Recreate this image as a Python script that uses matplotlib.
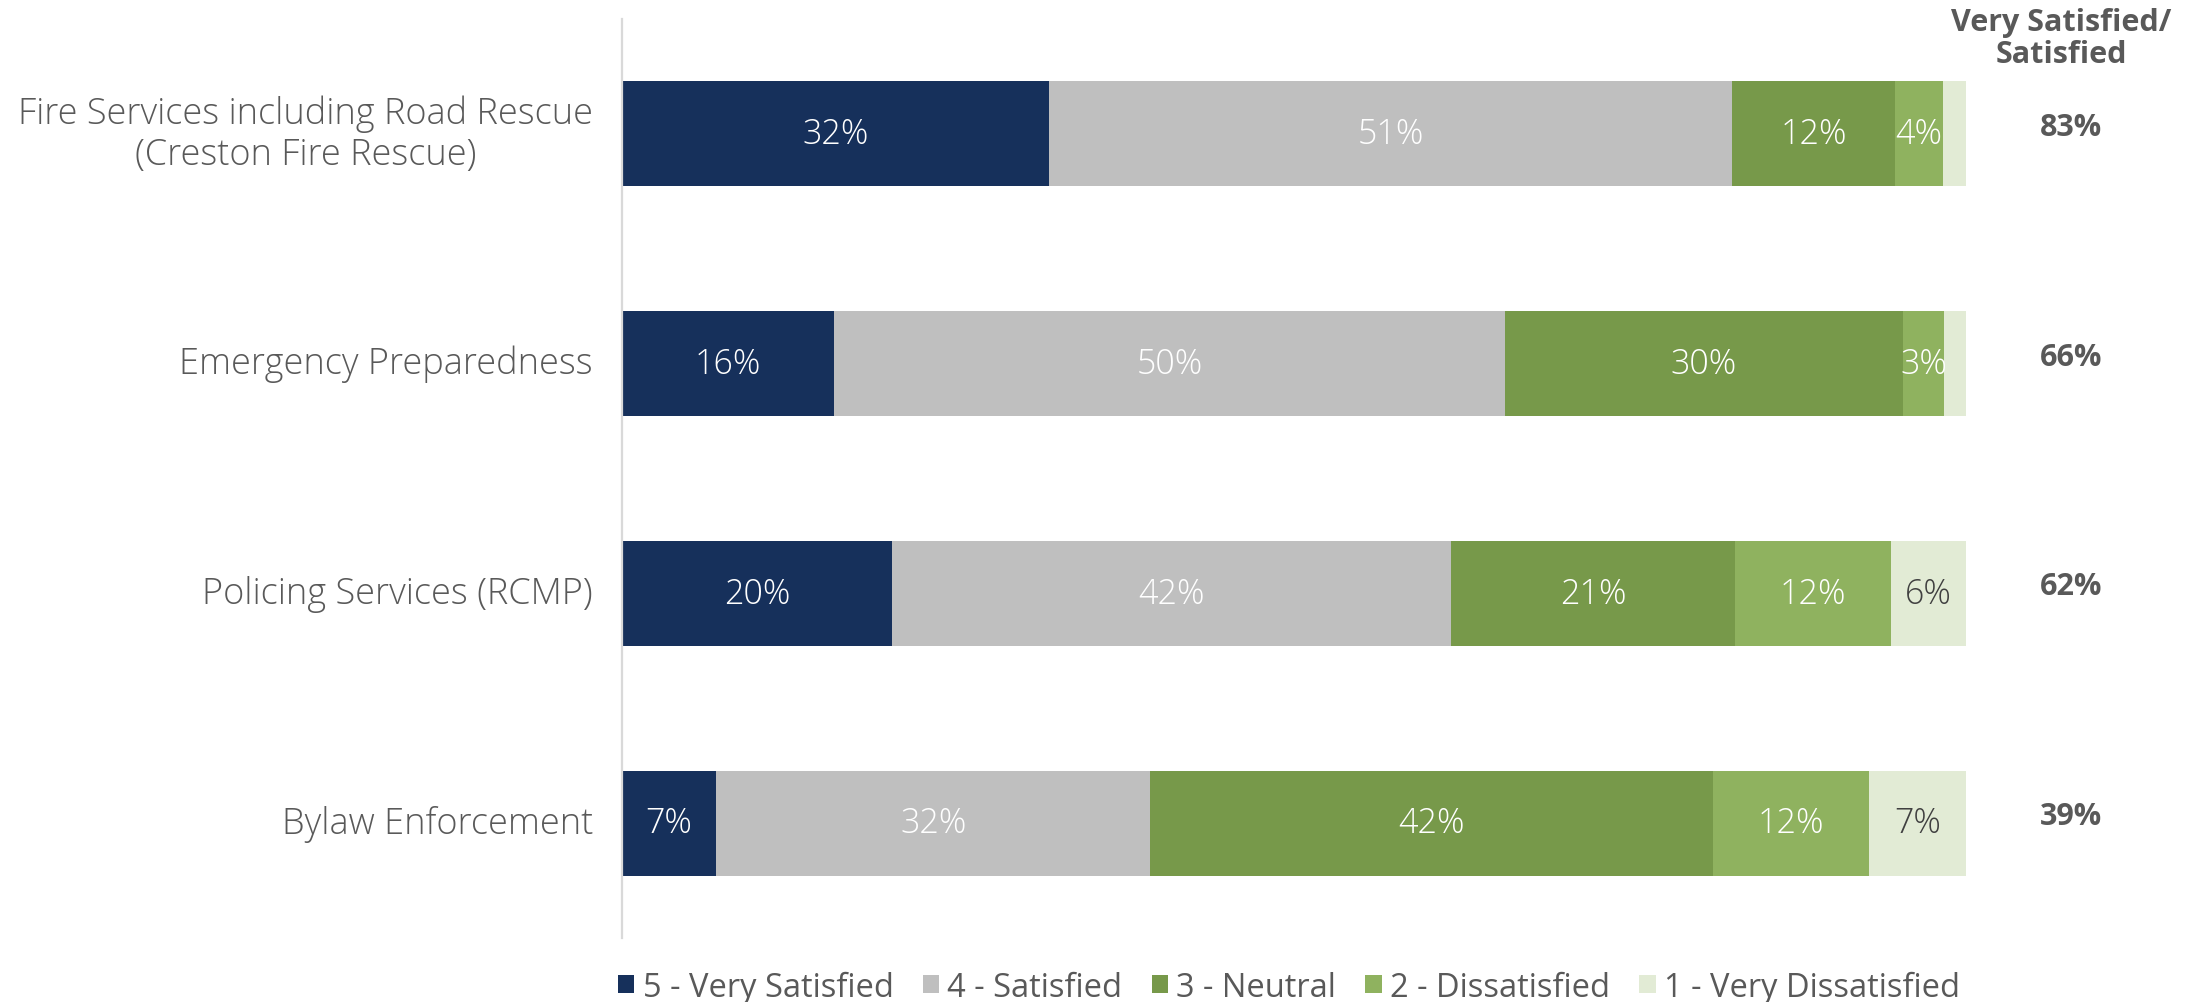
import matplotlib
matplotlib.use("Agg")
import matplotlib.pyplot as plt
from matplotlib.patches import Patch
import numpy as np

plt.rcParams['font.family'] = ['Open Sans', 'DejaVu Sans']

# Survey results (% of respondents)
categories = [
    "Fire Services including Road Rescue\n(Creston Fire Rescue)",
    "Emergency Preparedness",
    "Policing Services (RCMP)",
    "Bylaw Enforcement",
]
response_levels = [
    "5 - Very Satisfied",
    "4 - Satisfied",
    "3 - Neutral",
    "2 - Dissatisfied",
    "1 - Very Dissatisfied",
]
very_satisfied = [31.8, 15.8, 20.1, 7.0]
satisfied = [50.8, 49.9, 41.6, 32.3]
neutral = [12.1, 29.6, 21.1, 41.9]
dissatisfied = [3.6, 3.1, 11.6, 11.6]
very_dissatisfied = [1.7, 1.6, 5.6, 7.2]
summary_header = "Very Satisfied/\nSatisfied"

series = [very_satisfied, satisfied, neutral, dissatisfied, very_dissatisfied]
colors = ["#16305B", "#BFBFBF", "#77994A", "#8FB25F", "#E2EBD5"]
label_colors = ["white", "white", "white", "white", "#404040"]
text_gray = "#595959"

fig = plt.figure(figsize=(21.9, 10.03), dpi=100)
ax = fig.add_axes([622 / 2190, 64 / 1003, 1344 / 2190, 919 / 1003])

y = np.arange(len(categories))
left = np.zeros(len(categories))
for vals, col, lcol in zip(series, colors, label_colors):
    vals = np.asarray(vals)
    ax.barh(y, vals, left=left, height=0.457, color=col, edgecolor="none")
    for yi, (l, v) in enumerate(zip(left, vals)):
        if v >= 2.5:
            ax.text(l + v / 2, yi, f"{round(v):.0f}%", ha="center", va="center",
                    color=lcol, fontsize=24.5, fontweight="light")
    left += vals

ax.set_xlim(0, left.max())
ax.set_ylim(len(categories) - 0.5, -0.5)
ax.set_yticks(y)
ax.set_yticklabels(categories, fontsize=26, color=text_gray, fontweight="light",
                   multialignment="center", linespacing=1.12)
for lbl in ax.get_yticklabels():
    lbl.set_va("center")
ax.tick_params(axis="y", length=0, pad=21)
ax.set_xticks([])
for side in ["top", "right", "bottom"]:
    ax.spines[side].set_visible(False)
ax.spines["left"].set_color("#D9D9D9")
ax.spines["left"].set_linewidth(1.6)

# Top-two-box summary column
vs_s = np.asarray(very_satisfied) + np.asarray(satisfied)
fig.text(2061 / 2190, 1 - 39 / 1003, summary_header, ha="center", va="center",
         fontsize=22, fontweight="bold", color=text_gray, linespacing=1.05)
for yi, v in enumerate(vs_s):
    ax.annotate(f"{round(v):.0f}%", xy=(1, yi), xycoords=("axes fraction", "data"),
                xytext=(105, 7), textcoords="offset pixels", ha="center", va="center",
                fontsize=22, fontweight="bold", color=text_gray)

handles = [Patch(facecolor=c, edgecolor="none") for c in colors]
fig.legend(handles, response_levels, loc="center", ncol=5,
           bbox_to_anchor=(1289 / 2190, 15 / 1003), frameon=False,
           fontsize=23.5, labelcolor=text_gray, handlelength=0.5, handleheight=0.5,
           handletextpad=0.25, columnspacing=0.9, borderaxespad=0)

fig.savefig("out.png", dpi=100, facecolor="white")
